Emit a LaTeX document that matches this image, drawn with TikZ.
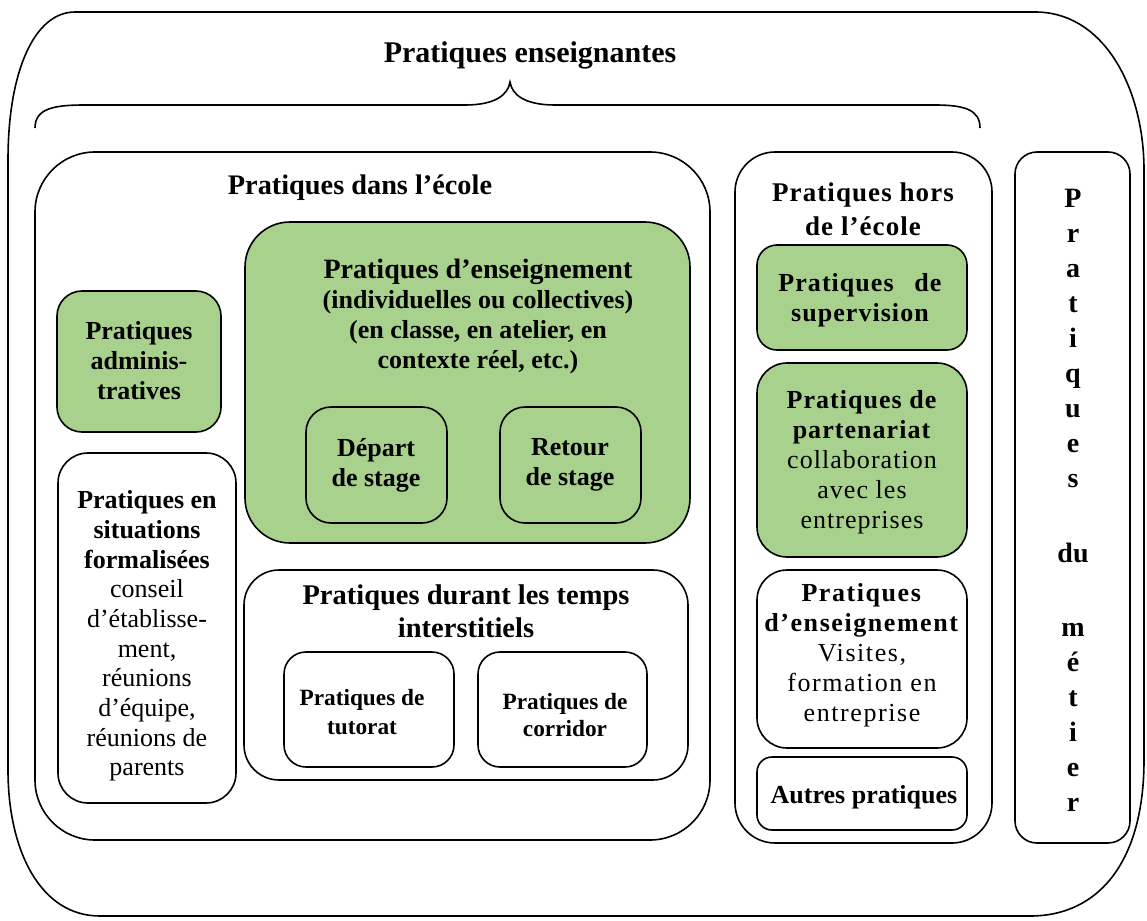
\documentclass[tikz,border=0pt]{standalone}
\usepackage{fontspec}
\setmainfont{Liberation Serif}
\usetikzlibrary{fit}
\definecolor{boxgreen}{HTML}{A9D18E}
\newcommand\fsz[2]{\fontsize{#1}{#2}\selectfont}
\newcommand\wide{\addfontfeature{LetterSpace=4}}
\tikzset{
  bx/.style={draw=black, line width=1.6pt, inner sep=0pt, rounded corners=#1},
  bx/.default=25pt,
  gbx/.style={bx=#1, fill=boxgreen},
  gbx/.default=25pt,
  txt/.style={align=center, inner sep=0pt, font=\bfseries\fsz{26}{30}},
  ltr/.style={inner sep=0pt, font=\bfseries\fsz{28}{30}},
}
\begin{document}
\begin{tikzpicture}[x=1pt,y=-1pt]
\useasboundingbox (0,0) rectangle (1147,920);
% outer frame
\draw[line width=1.6pt] (75,12) -- (1035,12)
  .. controls (1105,12) and (1144,90) .. (1144,170)
  -- (1144,760)
  .. controls (1144,860) and (1100,916) .. (1030,916)
  -- (100,916)
  .. controls (40,916) and (8,850) .. (8,770)
  -- (8,160)
  .. controls (8,70) and (35,12) .. (75,12) -- cycle;
\node[inner sep=0pt, font=\bfseries\fsz{30}{34}] (title) at (530,55) {Pratiques enseignantes};
% brace
\draw[line width=1.6pt] (35,128) .. controls (35,108) and (55,105) .. (85,105) -- (465,105)
  .. controls (495,105) and (508,95) .. (510,82)
  .. controls (512,95) and (525,105) .. (555,105) -- (935,105)
  .. controls (965,105) and (980,110) .. (980,128);

% Pratiques dans l'ecole
\node[bx=60pt, fit={(35,152) (710,840)}] (ecole) {};
\node[txt, font=\bfseries\fsz{28.3}{30}] (ecoleT) at (360,188) {Pratiques dans l’école};

\node[gbx=45pt, fit={(245,222) (690,543)}] (ens) {};
\node[txt] (ensT) at (478,317) {{\fsz{28}{30}Pratiques d’enseignement}\\(individuelles ou collectives)\\(en classe, en atelier, en\\contexte réel, etc.)};
\node[bx=25pt, fit={(306,407) (447,523)}] (depart) {};
\node[txt] (departT) at (376,465) {Départ\\de stage};
\node[bx=25pt, fit={(500,407) (641,523)}] (retour) {};
\node[txt] (retourT) at (570,465) {Retour\\de stage};

\node[gbx=25pt, fit={(57,291) (221,432)}] (admin) {};
\node[txt] (adminT) at (139,361) {Pratiques\\adminis-\\tratives};

\node[bx=30pt, fit={(58,453) (236,803)}] (formal) {};
\node[txt, font=\fsz{26}{29.7}] (formalT) at (147,636) {\textbf{Pratiques en}\\\textbf{situations}\\\textbf{formalisées}\\conseil\\d’établisse-\\ment,\\réunions\\d’équipe,\\réunions de\\parents};

\node[bx=35pt, fit={(244,570) (688,780)}] (inter) {};
\node[txt, font=\bfseries\fsz{28.5}{33}] (interT) at (466,611) {Pratiques durant les temps\\interstitiels};
\node[bx=22pt, fit={(284,652) (454,767)}] (tutorat) {};
\node[txt, font=\bfseries\fsz{23.3}{29}] (tutoratT) at (362,712) {Pratiques de\\tutorat};
\node[bx=22pt, fit={(478,652) (647,767)}] (corridor) {};
\node[txt, font=\bfseries\fsz{23.3}{27}] (corridorT) at (565,715) {Pratiques de\\corridor};

% Pratiques hors de l'ecole
\node[bx=40pt, fit={(735,152) (992,843)}] (hors) {};
\node[txt, font=\bfseries\fsz{27}{34}\wide] (horsT) at (863,209) {Pratiques hors\\de l’école};
\node[gbx=20pt, fit={(757,245) (967,350)}] (superv) {};
\node[txt, font=\bfseries\fsz{26}{30}\wide] (supervT) at (860,300) {Pratiques\hspace{0.8em}de\\supervision};
\node[gbx=30pt, fit={(757,363) (967,557)}] (parten) {};
\node[txt, font=\fsz{26}{30}\wide] (partenT) at (862,462) {\textbf{Pratiques de}\\\textbf{partenariat}\\collaboration\\avec les\\entreprises};
\node[bx=30pt, fit={(757,570) (967,748)}] (ensh) {};
\node[txt, font=\fsz{26}{30}\addfontfeature{LetterSpace=6}] (enshT) at (862,655) {\textbf{Pratiques}\\\textbf{d’enseignement}\\Visites,\\formation en\\entreprise};
\node[bx=15pt, fit={(757,757) (967,830)}] (autres) {};
\node[txt] (autresT) at (864,797) {Autres pratiques};

% Pratiques du metier
\node[bx=22pt, fit={(1015,152) (1130,843)}] (metier) {};
\foreach \l/\yy [count=\i] in {P/198,r/233,a/268,t/303,i/338,q/373,u/408,e/443,s/478,du/553,m/627,é/662,t/697,i/732,e/767,r/802}
  \node[ltr, anchor=base] (m\i) at (1073,\yy+9) {\strut\l};
\end{tikzpicture}
\end{document}
